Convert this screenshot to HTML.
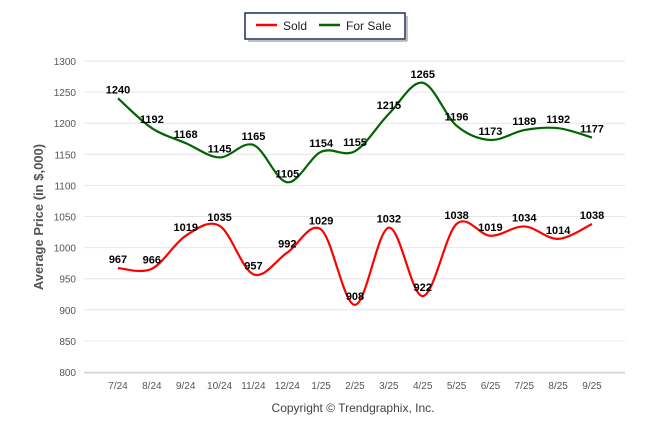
<!DOCTYPE html>
<html><head><meta charset="utf-8"><style>
body{margin:0;background:#fff;width:646px;height:434px;overflow:hidden;font-family:"Liberation Sans",sans-serif}
</style></head><body>
<svg width="646" height="434" style="position:absolute;left:0;top:0">
<rect x="245" y="13" width="160" height="26" fill="#fff" stroke="#1f2d5a" stroke-width="1.5"/>
<line x1="407" y1="16" x2="407" y2="41" stroke="#aaa" stroke-width="1.5"/>
<line x1="248" y1="41" x2="407" y2="41" stroke="#aaa" stroke-width="1.5"/>
<g><line x1="256" y1="25" x2="277" y2="25" stroke="#f00" stroke-width="2.5"/><text x="283" y="30" font-size="12" fill="#222">Sold</text></g>
<g><line x1="319" y1="25" x2="340" y2="25" stroke="#006400" stroke-width="2.5"/><text x="346" y="30" font-size="12" fill="#222">For Sale</text></g>
<text transform="translate(43,217) rotate(-90)" text-anchor="middle" font-size="13" font-weight="bold" fill="#555">Average Price (in $,000)</text>
<text x="353" y="412" text-anchor="middle" font-size="12" fill="#444">Copyright © Trendgraphix, Inc.</text>
<g id="grid"></g><g id="lines"></g><g id="labels"></g>
</svg>
<script>
const categories=["7/24","8/24","9/24","10/24","11/24","12/24","1/25","2/25","3/25","4/25","5/25","6/25","7/25","8/25","9/25"];
const sold=[967,966,1019,1035,957,992,1029,908,1032,922,1038,1019,1034,1014,1038];
const forSale=[1240,1192,1168,1145,1165,1105,1154,1155,1215,1265,1196,1173,1189,1192,1177];
const yTicks=[800,850,900,950,1000,1050,1100,1150,1200,1250,1300];
const NS="http://www.w3.org/2000/svg";
const x=i=>118+i*(592-118)/(categories.length-1);
const y=v=>372-(v-800)*(372-61)/500;
function mk(t,a,p){const e=document.createElementNS(NS,t);for(const k in a)e.setAttribute(k,a[k]);p.appendChild(e);return e;}
const grid=document.getElementById('grid'),lines=document.getElementById('lines'),labels=document.getElementById('labels');
yTicks.forEach(v=>{
 const l=mk('line',{x1:84,x2:625,y1:y(v),y2:y(v),stroke:'#e6e6e6'},grid);
 
 
 const t=mk('text',{x:76,y:y(v)+4,'text-anchor':'end','font-size':10,fill:'#555'},grid);t.textContent=v;
 
 
});
mk('line',{x1:84,x2:625,y1:373,y2:373,stroke:'#ccc'},grid);
categories.forEach((c,i)=>{
 const t=mk('text',{x:x(i),y:389,'text-anchor':'middle','font-size':10,fill:'#555'},grid);t.textContent=c;
 
 
});
function path(vals){
 const p=vals.map((v,i)=>[x(i),y(v)]);let d=`M${p[0][0]},${p[0][1]}`;
 for(let i=0;i<p.length-1;i++){const p0=p[i-1]||p[i],p1=p[i],p2=p[i+1],p3=p[i+2]||p2;
  d+=` C${p1[0]+(p2[0]-p0[0])/6},${p1[1]+(p2[1]-p0[1])/6} ${p2[0]-(p3[0]-p1[0])/6},${p2[1]-(p3[1]-p1[1])/6} ${p2[0]},${p2[1]}`;}
 return d;}
[[sold,'#f00','sold-line'],[forSale,'#006400','for-sale-line']].forEach(([vals,col,name])=>{
 const e=mk('path',{d:path(vals),fill:'none',stroke:col,'stroke-width':2.2},lines);
 
 
 vals.forEach((v,i)=>{
  const t=mk('text',{x:x(i),y:y(v)-5,'text-anchor':'middle','font-size':11,'font-weight':'bold',fill:'#000'},labels);t.textContent=v;
  
  
 });
});
</script>
</body></html>
